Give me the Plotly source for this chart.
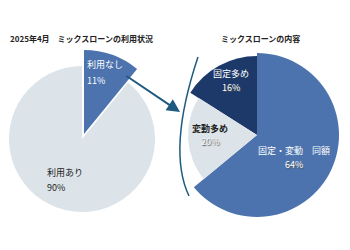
import plotly.graph_objects as go

W, H = 350, 250

# ---- data ----
left_title = "2025年4月　ミックスローンの利用状況"
left_labels = ["利用なし", "利用あり"]
left_values = [11, 90]

right_title = "ミックスローンの内容"
right_labels = ["固定・変動　同額", "変動多め", "固定多め"]
right_values = [64, 20, 16]

# ---- styles ----
LIGHT = "#dce4e9"
MID = "#4c73ae"
DARK = "#1c3969"
ARROW = "#1e5a80"
CLEAR = "rgba(0,0,0,0)"
FONT = "Noto Sans CJK JP"

fig = go.Figure()


def add_pie(values, labels, show_idx, colors, cx, cy, r):
    cols = [colors[i] if i in show_idx else CLEAR for i in range(len(values))]
    fig.add_trace(go.Pie(
        values=values, labels=labels, sort=False, direction="clockwise",
        rotation=0, textinfo="none", hoverinfo="label+value",
        marker=dict(colors=cols, line=dict(width=0)),
        domain=dict(x=[(cx - r) / W, (cx + r) / W],
                    y=[(H - cy - r) / H, (H - cy + r) / H]),
        showlegend=False,
    ))


# left pie
add_pie(left_values, left_labels, [1], [MID, LIGHT], 82, 139, 73)
add_pie(left_values, left_labels, [0], [MID, LIGHT], 84, 134, 84)

# right pie (center ~ (257,135))
rc = [MID, LIGHT, DARK]
add_pie(right_values, right_labels, [0], rc, 257, 135, 82)
add_pie(right_values, right_labels, [2], rc, 257, 135, 79)
add_pie(right_values, right_labels, [1], rc, 257, 135, 69)

ann = []


def text(t, x, y, anchor, color, size=9, shadow=None):
    f = dict(size=size, color=color, family=FONT)
    if shadow:
        f["shadow"] = shadow
    ann.append(dict(text=t, x=x / W, y=1 - y / H, xanchor=anchor, yanchor="middle",
                    showarrow=False, font=f))


# titles
text("<b>" + left_title + "</b>", 8, 38, "left", "#222", 8)
text("<b>" + right_title + "</b>", 260, 38, "center", "#222", 8)

# slice labels (label line, value line)
lpos = [(85, 64, 80, "left", "white"), (45, 172, 187, "left", "#222")]
for (x, y1, y2, a, c), lab, v in zip(lpos, left_labels, left_values):
    text(lab, x, y1, a, c)
    text(f"{v}%", x, y2, a, c)

SH = "1px 1px 1px #555"
rpos = [(294, 150, 164, "white", "white"),
        (210, 128, 141, "#222", "#f2f2f2"),
        (231, 73, 87, "white", "white")]
for (x, y1, y2, c1, c2), lab, v in zip(rpos, right_labels, right_values):
    bold = c1 == "#222"
    text(f"<b>{lab}</b>" if bold else lab, x, y1, "center", c1)
    text(f"{v}%", x, y2, "center", c2, shadow=SH)

# arrow from left slice to right pie
ann.append(dict(x=180 / W, y=1 - 112 / H, ax=125 - 180, ay=75 - 112,
                xref="paper", yref="paper", axref="pixel", ayref="pixel",
                text="", showarrow=True, arrowhead=2, arrowsize=1.3, arrowwidth=2,
                arrowcolor=ARROW))

# curved bracket
p0 = (198 / W, 1 - 57 / H)
c0 = (167 / W, 1 - 150 / H)
p1 = (189 / W, 1 - 196 / H)
shapes = [dict(type="path", xref="paper", yref="paper",
               path=f"M {p0[0]},{p0[1]} Q {c0[0]},{c0[1]} {p1[0]},{p1[1]}",
               line=dict(color=ARROW, width=1.5))]

fig.update_layout(width=W, height=H, margin=dict(l=0, r=0, t=0, b=0),
                  paper_bgcolor="white", plot_bgcolor="white",
                  annotations=ann, shapes=shapes, showlegend=False)

fig.write_html("out.html")
